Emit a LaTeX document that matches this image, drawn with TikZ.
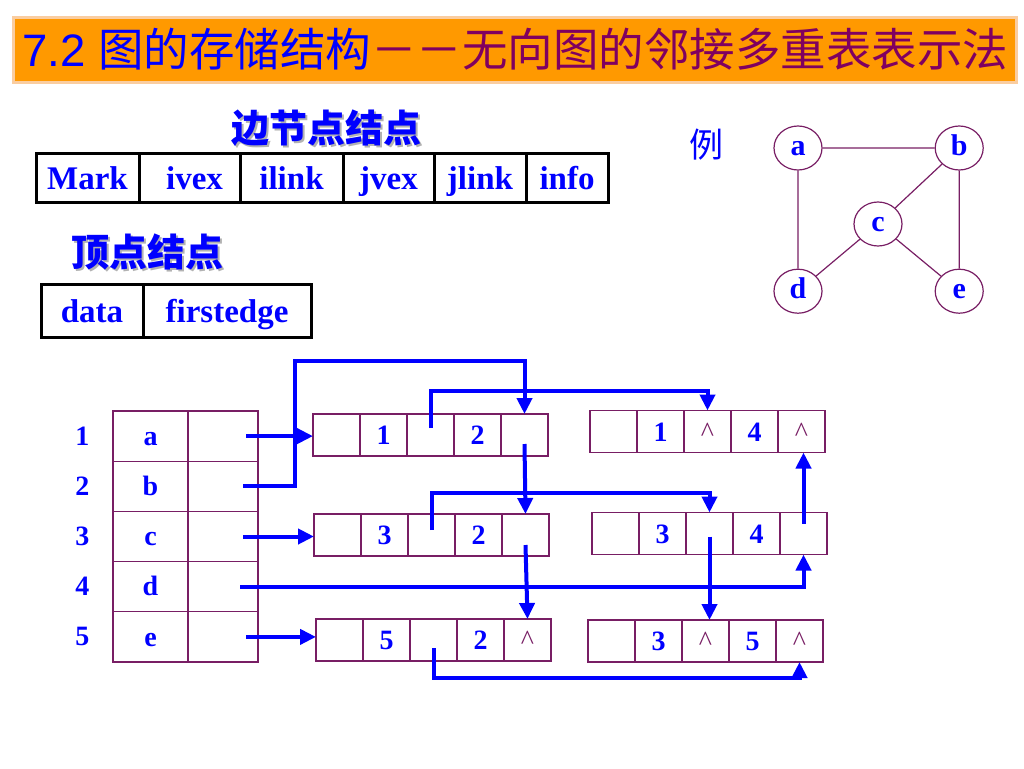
\documentclass[tikz,border=0pt]{standalone}
\usepackage{fontspec}
\setmainfont{Liberation Serif}
\setsansfont{Liberation Sans}
\newfontfamily\cjk{Noto Sans CJK SC}
\usetikzlibrary{positioning,shapes,arrows.meta}

\definecolor{ppblue}{RGB}{0,0,255}
\definecolor{titlered}{RGB}{128,0,96}
\definecolor{boxline}{RGB}{120,30,100}
\definecolor{titlebg}{RGB}{255,153,0}
\definecolor{titleedge}{RGB}{250,205,160}

\tikzset{
  field/.style={draw=black, line width=3pt, minimum height=49pt, inner sep=0pt, outer sep=0pt, text=ppblue, font=\fontsize{33}{33}\selectfont\bfseries, text height=30.4pt, text depth=6.4pt},
  cell/.style={draw=boxline, line width=1.2pt, minimum width=47pt, minimum height=42pt, inner sep=0pt, outer sep=0pt, text=ppblue, font=\fontsize{28}{28}\selectfont\bfseries, text height=19pt, text depth=0pt},
  vcell/.style={draw=boxline, line width=1.2pt, minimum height=50.2pt, inner sep=0pt, outer sep=0pt, text=ppblue, font=\fontsize{28}{28}\selectfont\bfseries, text height=19.6pt, text depth=1.4pt},
  idx/.style={text=ppblue, font=\fontsize{28}{28}\selectfont\bfseries},
  vert/.style={ellipse, draw=boxline, line width=1.2pt, minimum width=48pt, minimum height=44pt, inner sep=0pt, text=ppblue, font=\fontsize{30}{30}\selectfont\bfseries, text height=18pt, text depth=3pt},
  heading/.style={text=ppblue, font=\cjk\bfseries\fontsize{38}{38}\selectfont},
  link/.style={draw=ppblue, line width=4pt, -{Triangle[length=16pt,width=15pt]}},
}

\newcommand{\nil}{\textcolor{boxline}{\mdseries\fontsize{28}{28}\selectfont\textasciicircum}}

% one edge record: name, west point, ivex, ilink, jvex, jlink
\newcommand{\edgerec}[6]{%
  \node[cell,anchor=west] (#1-1) at #2 {};
  \node[cell,right=0pt of #1-1] (#1-2) {#3};
  \node[cell,right=0pt of #1-2] (#1-3) {#4};
  \node[cell,right=0pt of #1-3] (#1-4) {#5};
  \node[cell,right=0pt of #1-4] (#1-5) {#6};
}

\begin{document}
\begin{tikzpicture}[x=1pt,y=-1pt]
	\useasboundingbox (0,0) rectangle (1024,768);
	% title bar
	\node[draw=titleedge, fill=titlebg, line width=3pt, minimum width=1003pt, minimum height=65pt, anchor=north west] (bar) at (12,16) {};
	\node[anchor=west, inner sep=0pt, font=\fontsize{45.5}{45.5}\selectfont] (title) at (22,49)
	  {\textcolor{ppblue}{\sffamily 7.2 \cjk 图的存储结构}\textcolor{titlered}{\cjk －－无向图的邻接多重表表示法}};

	% edge node layout
	\node[heading, text=gray!60] at (328,130) {边节点结点};
	\node[heading] (ehead) at (326,128) {边节点结点};
	\node[field, minimum width=103pt, anchor=west] (mark) at (36,177.5) {Mark};
	\node[field, minimum width=101pt, right=0pt of mark] (ivex) {\hspace*{10pt}ivex};
	\node[field, minimum width=103pt, right=0pt of ivex] (ilink) {ilink};
	\node[field, minimum width=91pt, right=0pt of ilink] (jvex) {jvex};
	\node[field, minimum width=92pt, right=0pt of jvex] (jlink) {jlink};
	\node[field, minimum width=82pt, right=0pt of jlink] (info) {info};

	% vertex node layout
	\node[heading, text=gray!60] at (149,254) {顶点结点};
	\node[heading] (vhead) at (147,252) {顶点结点};
	\node[field, minimum width=102pt, minimum height=53pt, anchor=west] (data) at (41,310.5) {data};
	\node[field, minimum width=168pt, minimum height=53pt, right=0pt of data] (first) {firstedge};

	% example graph
	\node[text=ppblue, font=\cjk\fontsize{34}{34}\selectfont] (eg) at (706,145) {例};
	\node[vert] (a) at (798,148) {a};
	\node[vert, right=112pt of a] (b) {b};
	\node[vert] (c) at (878,224) {c};
	\node[vert, below=98pt of a] (d) {d};
	\node[vert, below=98pt of b] (e) {e};
	\draw[boxline, line width=1.2pt] (a) -- (b) (a) -- (d) (b) -- (c) (c) -- (d) (c) -- (e) (b) -- (e);

	% vertex table
	\foreach \v [count=\i] in {a,b,c,d,e} {
	  \node[vcell, minimum width=75pt, anchor=north west] (V\v) at (113,{411+50.2*(\i-1)}) {\v};
	  \node[vcell, minimum width=70pt, right=0pt of V\v] (F\v) {};
	  \node[idx, left=20pt of V\v] (n\i) {\i};
	}

	% edge records
	\edgerec{E1}{(313,435)}{1}{}{2}{}
	\edgerec{E2}{(314,535)}{3}{}{2}{}
	\edgerec{E3}{(316,640)}{5}{}{2}{\nil}
	\edgerec{E4}{(590,431.5)}{1}{\nil}{4}{\nil}
	\edgerec{E5}{(592,533.5)}{3}{}{4}{}
	\edgerec{E6}{(588,641)}{3}{\nil}{5}{\nil}

	\coordinate (up1) at (295,361);
	\draw[link] ([xshift=-12pt]Fa.east) -- (Fa.east -| E1-1.west);
	\draw[link] ([xshift=-15pt]Fb.east) -| (up1) -| (E1-5.north);
	\draw[link] ([yshift=7pt]E1-3.center) -- ++(0,-37) -| (E4-3.north);
	\draw[link] ([yshift=-9pt]E1-5.center) -- (E2-5.north);
	\draw[link] ([xshift=-15pt]Fc.east) -- (Fc.east -| E2-1.west);
	\draw[link] ([yshift=5pt]E2-3.center) -- ++(0,-37) -| (E5-3.north);
	\draw[link] ([yshift=-10pt]E2-5.center) -- (E3-5.north);
	\draw[link] ([xshift=-18pt]Fd.east) -| (E5-5.south);
	\draw[link] ([yshift=-3pt]E5-3.center) -- (E5-3.center |- E6-3.north);
	\draw[link] ([yshift=10pt]E5-5.center) -- (E5-5.center |- E4-5.south);
	\draw[link] ([xshift=-12pt]Fe.east) -- (Fe.east -| E3-1.west);
	\draw[link] ([yshift=-8pt]E3-3.center) -- ++(0,30) -| (E6-5.south);
\end{tikzpicture}
\end{document}
